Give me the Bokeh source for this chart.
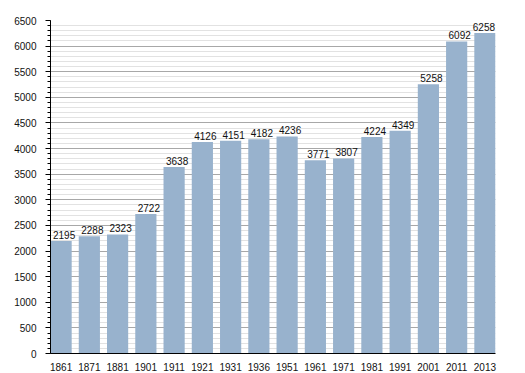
from bokeh.plotting import figure
from bokeh.models import ColumnDataSource, Range1d, FixedTicker, SingleIntervalTicker, LabelSet
from bokeh.core.properties import value
from bokeh.embed import file_html
from bokeh.resources import INLINE

years = ["1861", "1871", "1881", "1901", "1911", "1921", "1931", "1936",
         "1951", "1961", "1971", "1981", "1991", "2001", "2011", "2013"]
population = [2195, 2288, 2323, 2722, 3638, 4126, 4151, 4182,
              4236, 3771, 3807, 4224, 4349, 5258, 6092, 6258]

xs = list(range(len(years)))
bw = 0.75
xoff = [3] * (len(years) - 1) + [-1]
src = ColumnDataSource(dict(x=xs, top=population, lab=[str(v) for v in population], xoff=xoff))

p = figure(width=517, height=373, output_backend="svg", toolbar_location=None,
           x_range=Range1d(-bw / 2, len(years) - 1 + bw / 2), y_range=Range1d(0, 6500),
           min_border_left=50, min_border_top=20, min_border_right=22, min_border_bottom=14)
p.outline_line_color = None
p.background_fill_color = "white"

p.vbar(x="x", top="top", width=bw, source=src, fill_color="#98b2cd", line_color=None)

labels = LabelSet(x="x", y="top", text="lab", source=src, text_align="center",
                  text_baseline="bottom", y_offset=2, x_offset="xoff", text_font_size="10px",
                  text_font=value("Liberation Sans"), text_color="#111111")
p.add_layout(labels)

# x axis
p.xaxis.ticker = FixedTicker(ticks=xs)
p.xaxis.major_label_overrides = {i: y for i, y in enumerate(years)}
p.xaxis.major_tick_line_color = None
p.xaxis.minor_tick_line_color = None
p.xaxis.major_label_standoff = 3
p.xaxis.axis_line_color = "black"
p.xaxis.major_label_text_font = "Liberation Sans"
p.xaxis.major_label_text_font_size = "10px"
p.xaxis.major_label_text_color = "#111111"
p.xgrid.grid_line_color = None

# y axis
p.yaxis.ticker = SingleIntervalTicker(interval=500, num_minor_ticks=5)
p.yaxis.axis_line_color = "black"
p.yaxis.major_tick_line_color = "black"
p.yaxis.minor_tick_line_color = "black"
p.yaxis.major_tick_out = 5
p.yaxis.major_tick_in = 0
p.yaxis.minor_tick_out = 3
p.yaxis.minor_tick_in = 0
p.yaxis.major_label_standoff = 9
p.yaxis.major_label_text_font = "Liberation Sans"
p.yaxis.major_label_text_font_size = "10px"
p.yaxis.major_label_text_color = "#111111"
p.ygrid.grid_line_color = "#a8a8a8"
p.ygrid.minor_grid_line_color = "#e2e2e2"
p.ygrid.level = "underlay"

open("out.html", "w").write(file_html(p, INLINE))
